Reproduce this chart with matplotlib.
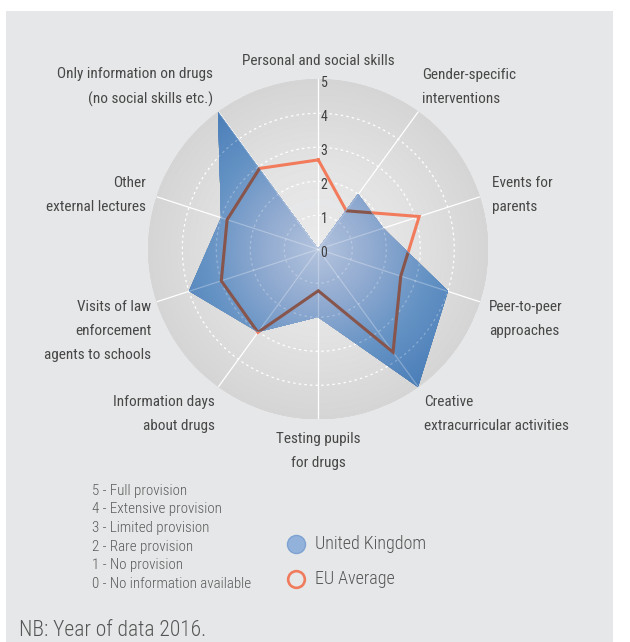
import numpy as np
import matplotlib
matplotlib.use("Agg")
import matplotlib.pyplot as plt
from matplotlib.colors import LinearSegmentedColormap
from matplotlib.patches import Rectangle
from matplotlib.lines import Line2D
import matplotlib.transforms as mtrans
import matplotlib.font_manager as fm

# ---------------- data ----------------
categories = [
    "Personal and social skills",
    "Gender-specific\ninterventions",
    "Events for\nparents",
    "Peer-to-peer\napproaches",
    "Creative\nextracurricular activities",
    "Testing pupils\nfor drugs",
    "Information days\nabout drugs",
    "Visits of law\nenforcement\nagents to schools",
    "Other\nexternal lectures",
    "Only information on drugs\n(no social skills etc.)",
]
uk_values = [0, 2, 2, 4, 5, 2, 3, 4, 3, 5]
eu_values = [2.63, 1.40, 3.12, 2.55, 3.74, 1.22, 3.02, 3.0, 2.82, 2.94]
r_ticks = [0, 1, 2, 3, 4, 5]
scale_lines = [
    "5 - Full provision",
    "4 - Extensive provision",
    "3 - Limited provision",
    "2 - Rare provision",
    "1 - No provision",
    "0 - No information available",
]
series_names = ["United Kingdom", "EU Average"]
note = "NB: Year of data 2016."

# ---------------- fonts ----------------
names = {f.name for f in fm.fontManager.ttflist}
def pick(*cands):
    for c in cands:
        if c in names:
            return c
    return "DejaVu Sans"
cond = pick("Roboto Condensed", "Liberation Sans Narrow", "Open Sans Condensed", "Noto Sans Condensed", "Roboto")
light = pick("Roboto Condensed", "Liberation Sans Narrow", "Roboto", "Lato")

W, H = 630, 642
fig = plt.figure(figsize=(W / 100, H / 100), dpi=100)
fig.patch.set_facecolor("white")
fig.patches.append(Rectangle((6 / W, 0), 607 / W, 631 / H, transform=fig.transFigure,
                             facecolor="#e6e7e8", edgecolor="none", zorder=-10))

cx, cy, R = 318.3, 249.3, 170.0
ax = fig.add_axes([(cx - R) / W, 1 - (cy + R) / H, 2 * R / W, 2 * R / H], projection="polar")
ax.set_facecolor("none")
ax.set_theta_offset(np.pi / 2)
ax.set_theta_direction(-1)
ax.spines["polar"].set_visible(False)
ax.grid(False)

n = len(categories)
angles = np.arange(n) * 2 * np.pi / n
ang_c = np.append(angles, angles[0])
uk_c = np.append(uk_values, uk_values[0])
eu_c = np.append(eu_values, eu_values[0])

rmax = r_ticks[-1]
th = np.linspace(0, 2 * np.pi, 721)
rr = np.linspace(0, rmax, 201)
TH, RR = np.meshgrid(th, rr)

gray_cmap = LinearSegmentedColormap.from_list("g", ["#ececed", "#e3e3e4", "#d5d5d6"])
blue_cmap = LinearSegmentedColormap.from_list("b", ["#b4c4de", "#90aad0", "#6492c4", "#4b7eb8"])

ax.pcolormesh(TH, RR, RR, cmap=gray_cmap, vmin=0, vmax=rmax, shading="gouraud", zorder=0)

def draw_grid(alpha, zorder, clip=None):
    arts = []
    for a in angles:
        l, = ax.plot([a, a], [0, rmax], color="white", lw=0.9, alpha=alpha, zorder=zorder)
        arts.append(l)
    for r in r_ticks[1:-1]:
        l, = ax.plot(th, np.full_like(th, r), color="white", lw=0.9, ls=(0, (2, 2.5)),
                     alpha=alpha, zorder=zorder)
        arts.append(l)
    if clip is not None:
        for l in arts:
            l.set_clip_path(clip)

draw_grid(1.0, 1)

# EU line (orange, below UK area)
ax.plot(ang_c, eu_c, color="#f27b5c", lw=2.2, zorder=2, solid_joinstyle="miter")

# UK area with radial gradient
poly = ax.fill(ang_c, uk_c, facecolor="none", edgecolor="none", zorder=3)[0]
mesh = ax.pcolormesh(TH, RR, RR, cmap=blue_cmap, vmin=0, vmax=rmax, shading="gouraud", zorder=3)
mesh.set_clip_path(poly)
draw_grid(0.28, 3.5, clip=poly)

# EU line seen through UK area (multiplied -> brown)
brown, = ax.plot(ang_c, eu_c, color="#87554b", lw=2.2, zorder=4, solid_joinstyle="miter")
brown.set_clip_path(poly)

ax.set_xticks([])
ax.set_yticks([])
ax.set_ylim(0, rmax)

off = mtrans.offset_copy(ax.transData, fig=fig, x=1.6, y=-2.6, units="points")
for r in r_ticks:
    ax.text(0, r, str(r), transform=off, ha="left", va="center", fontsize=10,
            color="#3f3f3f", family=light, zorder=6)

# category labels (pixel positions of text blocks)
label_pos = [(318, 61, "center"), (422, 87, "left"), (492, 195, "left"), (489, 319, "left"),
             (424, 414, "left"), (318, 451, "center"), (215, 414, "right"), (151, 331, "right"),
             (146, 195, "right"), (213, 87, "right")]
for txt, (x, y, ha) in zip(categories, label_pos):
    fig.text(x / W, 1 - y / H, txt, ha=ha, va="center", fontsize=11, color="#474747",
             family=cond, linespacing=1.92)

# scale description
for i, s in enumerate(scale_lines):
    fig.text(92 / W, 1 - (491 + i * 18.5) / H, s, ha="left", va="center", fontsize=10.8,
             color="#5a5a5a", family=light, fontweight="light")

# series legend
leg_y = [544, 579]
fig.add_artist(Line2D([296 / W], [1 - leg_y[0] / H], marker="o", markersize=13,
                      markerfacecolor="#92b2dc", markeredgecolor="#7ea2d2", markeredgewidth=1.0,
                      transform=fig.transFigure, linestyle="none"))
fig.add_artist(Line2D([296 / W], [1 - leg_y[1] / H], marker="o", markersize=12,
                      markerfacecolor="none", markeredgecolor="#f07b5c", markeredgewidth=1.9,
                      transform=fig.transFigure, linestyle="none"))
for name, y in zip(series_names, leg_y):
    fig.text(315 / W, 1 - y / H, name, ha="left", va="center", fontsize=13, color="#555555",
             family=light, fontweight="light")

fig.text(19 / W, 1 - 631 / H, note, ha="left", va="center", fontsize=15.5, color="#555555",
         family=light, fontweight="light")

fig.savefig("out.png", dpi=100)
